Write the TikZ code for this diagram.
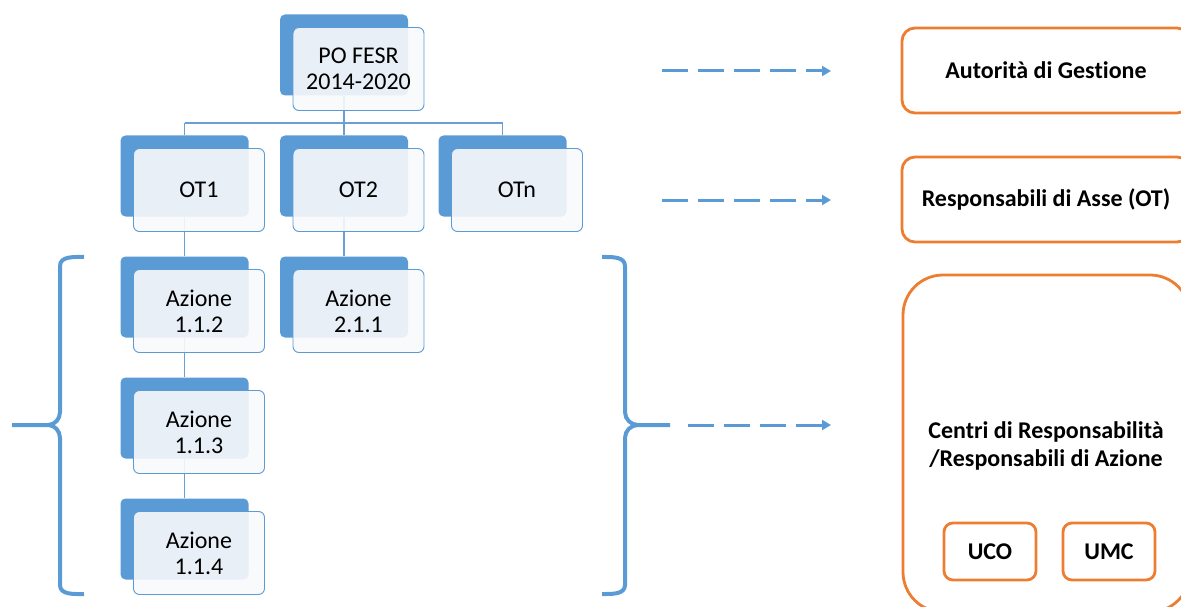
\documentclass[tikz,border=0pt]{standalone}
\usepackage{fontspec}
\setmainfont{Carlito}[Ligatures=NoCommon]
\usetikzlibrary{arrows.meta,calc}
\definecolor{boxblue}{HTML}{5B9BD5}
\definecolor{linkblue}{HTML}{6A9FD3}
\definecolor{frontfill}{HTML}{F8F9FB}
\definecolor{roleorange}{HTML}{ED7D31}
\pgfdeclarelayer{lines}
\pgfsetlayers{lines,main}
\tikzset{
  back/.style={fill=boxblue, rounded corners=5pt, minimum width=128pt, minimum height=81pt, inner sep=0pt},
  front/.style={draw=boxblue, line width=0.9pt, fill=frontfill, fill opacity=0.9, text opacity=1,
    rounded corners=6pt, minimum width=131pt, minimum height=83pt, inner sep=0pt,
    align=center, font=\fontsize{24}{26}\selectfont},
  conn/.style={draw=linkblue, line width=1.2pt},
  brace/.style={draw=boxblue, line width=4pt},
  flow/.style={draw=boxblue, line width=3pt, dash pattern=on 26pt off 10pt,
    -{Triangle[length=9pt,width=10pt]}},
  role/.style={draw=roleorange, line width=2.8pt, fill=white, rounded corners=13pt,
    align=center, inner sep=0pt, font=\bfseries\fontsize{24}{28}\selectfont},
}
\begin{document}
\begin{tikzpicture}[x=1pt,y=-1pt]
\useasboundingbox (0,0) rectangle (1181,607);
\clip (0,0) rectangle (1181,607);

% organisation chart: shadow card, then front card
\node[back] (poB) at (344,55) {};
\node[front] (po) at ($(poB)+(14.5,14)$) {PO FESR\\2014-2020};

\node[back] (ot1B) at (184.5,176) {};
\node[front] (ot1) at ($(ot1B)+(14.5,14)$) {OT1};
\node[back] (ot2B) at (344,176) {};
\node[front] (ot2) at ($(ot2B)+(14.5,14)$) {OT2};
\node[back] (otnB) at (502.5,176) {};
\node[front] (otn) at ($(otnB)+(14.5,14)$) {OTn};

\node[back] (a112B) at (184.5,297) {};
\node[front] (a112) at ($(a112B)+(14.5,14)$) {Azione\\1.1.2};
\node[back] (a211B) at (344,297) {};
\node[front] (a211) at ($(a211B)+(14.5,14)$) {Azione\\2.1.1};
\node[back] (a113B) at (184.5,418) {};
\node[front] (a113) at ($(a113B)+(14.5,14)$) {Azione\\1.1.3};
\node[back] (a114B) at (184.5,539) {};
\node[front] (a114) at ($(a114B)+(14.5,14)$) {Azione\\1.1.4};

% tree links, behind the cards
\coordinate (bar) at (0,123);
\begin{pgfonlayer}{lines}
  \draw[conn] (poB.south) -- (poB.south|-bar);
  \draw[conn] (ot1B.north|-bar) -- (otnB.north|-bar);
  \draw[conn] (ot1B.north|-bar) -- (ot1B.north);
  \draw[conn] (ot2B.north|-bar) -- (ot2B.north);
  \draw[conn] (otnB.north|-bar) -- (otnB.north);
  \draw[conn] (ot1B.south) -- (a112B.north);
  \draw[conn] (ot2B.south) -- (a211B.north);
  \draw[conn] (a112B.south) -- (a113B.north);
  \draw[conn] (a113B.south) -- (a114B.north);
\end{pgfonlayer}

% braces around the actions
\draw[brace] (84,257) to[out=180,in=90] (60,266) -- (60,412)
  to[out=270,in=0] (48,425) -- (12,425);
\draw[brace] (84,594) to[out=180,in=270] (60,585) -- (60,438)
  to[out=90,in=0] (48,425);
\draw[brace] (602,257) to[out=0,in=90] (625,266) -- (625,412)
  to[out=270,in=180] (638,425) -- (670,425);
\draw[brace] (602,594) to[out=0,in=270] (625,585) -- (625,438)
  to[out=90,in=180] (638,425);

% roles
\node[role, minimum width=288pt, minimum height=85pt] (ag) at (1046,70.5) {Autorità di Gestione};
\node[role, minimum width=288pt, minimum height=85pt] (ra) at (1046,199.5) {Responsabili di Asse (OT)};
\node[role, rounded corners=40pt, minimum width=287pt, minimum height=337pt] (cr) at (1046.5,443.5) {};
\node[role, draw=none, fill=none] (crt) at (1046,446) {Centri di Responsabilità\\/Responsabili di Azione};
\node[role, rounded corners=9pt, minimum width=92pt, minimum height=57pt] (uco) at (990,551.5) {UCO};
\node[role, rounded corners=9pt, minimum width=92pt, minimum height=57pt] (umc) at (1109,551.5) {UMC};

% dashed links towards the roles
\coordinate (f1s) at (662,71);  \coordinate (f1e) at (831,71);
\coordinate (f2s) at (662,200); \coordinate (f2e) at (831,200);
\coordinate (f3s) at (688,425); \coordinate (f3e) at (831,425);
\draw[flow] (f1s) -- (f1e);
\draw[flow] (f2s) -- (f2e);
\draw[flow] (f3s) -- (f3e);
\end{tikzpicture}
\end{document}
